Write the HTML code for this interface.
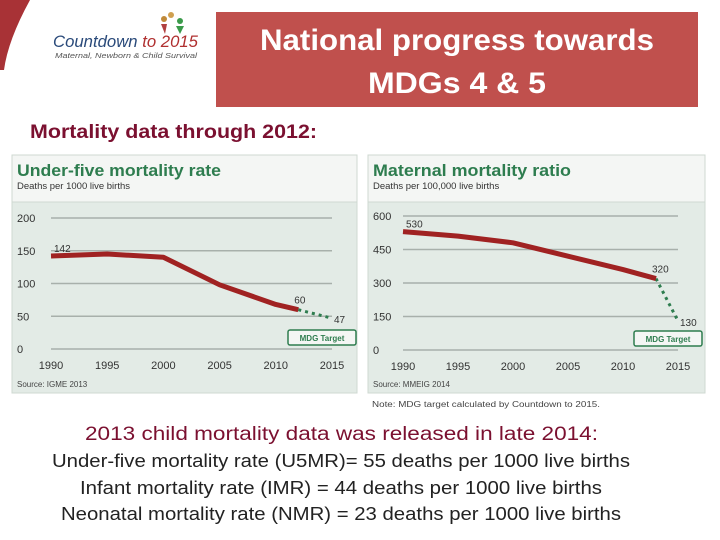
<!DOCTYPE html>
<html><head><meta charset="utf-8"><style>
body{margin:0;width:720px;height:540px;background:#fff;font-family:"Liberation Sans",sans-serif;position:relative;overflow:hidden}
.abs{position:absolute}
</style></head><body>
<svg class="abs" style="left:0;top:0" width="720" height="540">
<path d="M0,0 L30,0 Q8,40 4,70 L0,70 Z" fill="#a83236"/>
<g>
<circle cx="164" cy="19" r="3" fill="#c08a3a"/><circle cx="171" cy="15" r="3" fill="#d0a050"/><circle cx="180" cy="21" r="3" fill="#3a9a4a"/>
<path d="M161,24 L167,24 L165,34 Z" fill="#b04040"/><path d="M176,26 L184,26 L180,34 Z" fill="#3a9a4a"/>
<text x="53" y="47" font-size="17" font-style="italic" fill="#2a4a7a" textLength="145" lengthAdjust="spacingAndGlyphs">Countdown <tspan fill="#b03030">to 2015</tspan></text>
<text x="55" y="58" font-size="7" font-style="italic" fill="#555" textLength="142" lengthAdjust="spacingAndGlyphs">Maternal, Newborn &amp; Child Survival</text>
</g>
<rect x="216" y="12" width="482" height="95" fill="#c0504d"/>
<text x="260" y="50" font-size="30" fill="#fff" font-weight="bold" textLength="394" lengthAdjust="spacingAndGlyphs">National progress towards</text>
<text x="368" y="93" font-size="30" fill="#fff" font-weight="bold" textLength="178" lengthAdjust="spacingAndGlyphs">MDGs 4 &amp; 5</text>
<text x="30" y="138" font-size="19" fill="#7b1030" font-weight="bold" textLength="287" lengthAdjust="spacingAndGlyphs">Mortality data through 2012:</text>
<g id="c1"></g><g id="c2"></g>
<text x="372" y="407" font-size="8" fill="#444" textLength="228" lengthAdjust="spacingAndGlyphs">Note: MDG target calculated by Countdown to 2015.</text>
<text x="85" y="440" font-size="19" fill="#7b1030" textLength="513" lengthAdjust="spacingAndGlyphs">2013 child mortality data was released in late 2014:</text>
<text x="52" y="467" font-size="18" fill="#222" textLength="578" lengthAdjust="spacingAndGlyphs">Under-five mortality rate (U5MR)= 55 deaths per 1000 live births</text>
<text x="80" y="494" font-size="18" fill="#222" textLength="522" lengthAdjust="spacingAndGlyphs">Infant mortality rate (IMR) = 44 deaths per 1000 live births</text>
<text x="61" y="520" font-size="18" fill="#222" textLength="560" lengthAdjust="spacingAndGlyphs">Neonatal mortality rate (NMR) = 23 deaths per 1000 live births</text>
</svg>
<script>
const u5Years=[1990,1995,2000,2005,2010,2012];
const u5Values=[142,145,140,98,68,60];
const u5TargetYears=[2012,2015];
const u5TargetValues=[60,47];
const u5Ticks=[0,50,100,150,200];
const mmYears=[1990,1995,2000,2005,2010,2013];
const mmValues=[530,510,480,420,360,320];
const mmTargetYears=[2013,2015];
const mmTargetValues=[320,130];
const mmTicks=[0,150,300,450,600];
const xTicks=[1990,1995,2000,2005,2010,2015];
const NS="http://www.w3.org/2000/svg";
function mk(p,t,a,txt){const e=document.createElementNS(NS,t);for(const k in a)e.setAttribute(k,a[k]);if(txt!==undefined)e.textContent=txt;p.appendChild(e);return e;}
function chart(g,o){
 const X=y=>o.x0+(y-1990)/25*(o.x1-o.x0);
 const Y=v=>o.y0-(v/o.max)*(o.y0-o.y1);
 let e=mk(g,'rect',{x:o.bx,y:o.by,width:o.bw,height:o.bh,fill:'#e3ebe6',stroke:'#cfd8d2'});
 
 mk(g,'rect',{x:o.bx,y:o.by,width:o.bw,height:47,fill:'#f4f6f4',stroke:'#cfd8d2'});
 e=mk(g,'text',{x:o.bx+5,y:o.by+21,'font-size':17,'font-weight':'bold',fill:'#2e7d4f',textLength:o.tl,lengthAdjust:'spacingAndGlyphs'},o.title);
 
 mk(g,'text',{x:o.bx+5,y:o.by+34,'font-size':9.5,fill:'#333'},o.sub);
 o.ticks.forEach(t=>{
  mk(g,'line',{x1:o.x0,x2:o.x1,y1:Y(t),y2:Y(t),stroke:'#a8b0ab','stroke-width':1.5});
  e=mk(g,'text',{x:o.bx+5,y:Y(t)+4,'font-size':11,fill:'#333'},t);
  
 });
 xTicks.forEach(t=>{e=mk(g,'text',{x:X(t),y:o.y0+20,'font-size':11,fill:'#333','text-anchor':'middle'},t);
  });
 e=mk(g,'polyline',{points:o.ty.map((y,i)=>X(y)+','+Y(o.tv[i])).join(' '),fill:'none',stroke:'#2e7d4f','stroke-width':3,'stroke-dasharray':'3,4'});
 
 e=mk(g,'polyline',{points:o.yr.map((y,i)=>X(y)+','+Y(o.v[i])).join(' '),fill:'none',stroke:'#a02222','stroke-width':5,'stroke-linejoin':'round'});
 
 mk(g,'text',{x:X(o.yr[0])+3,y:Y(o.v[0])-4,'font-size':10,fill:'#333'},o.v[0]);
 const L=o.yr.length-1;
 mk(g,'text',{x:X(o.yr[L])-4,y:Y(o.v[L])-6,'font-size':10,fill:'#333'},o.v[L]);
 mk(g,'text',{x:X(o.ty[1])+2,y:Y(o.tv[1])+5,'font-size':10,fill:'#333'},o.tv[1]);
 e=mk(g,'rect',{x:o.x1-44,y:o.y0-19,width:68,height:15,fill:'#f4f6f4',stroke:'#2e7d4f','stroke-width':1.5,rx:2});
 
 mk(g,'text',{x:o.x1-10,y:o.y0-8,'font-size':8,fill:'#2e7d4f','text-anchor':'middle','font-weight':'bold'},'MDG Target');
 mk(g,'text',{x:o.bx+5,y:o.by+o.bh-6,'font-size':8,fill:'#444'},o.src);
}
chart(document.getElementById('c1'),{name:'u5mr',bx:12,by:155,bw:345,bh:238,x0:51,x1:332,y0:349,y1:218,max:200,tl:204,ticks:u5Ticks,yr:u5Years,v:u5Values,ty:u5TargetYears,tv:u5TargetValues,title:'Under-five mortality rate',sub:'Deaths per 1000 live births',src:'Source: IGME 2013'});
chart(document.getElementById('c2'),{name:'mmr',bx:368,by:155,bw:337,bh:238,x0:403,x1:678,y0:350,y1:216,max:600,tl:198,ticks:mmTicks,yr:mmYears,v:mmValues,ty:mmTargetYears,tv:mmTargetValues,title:'Maternal mortality ratio',sub:'Deaths per 100,000 live births',src:'Source: MMEIG 2014'});
</script>
</body></html>
